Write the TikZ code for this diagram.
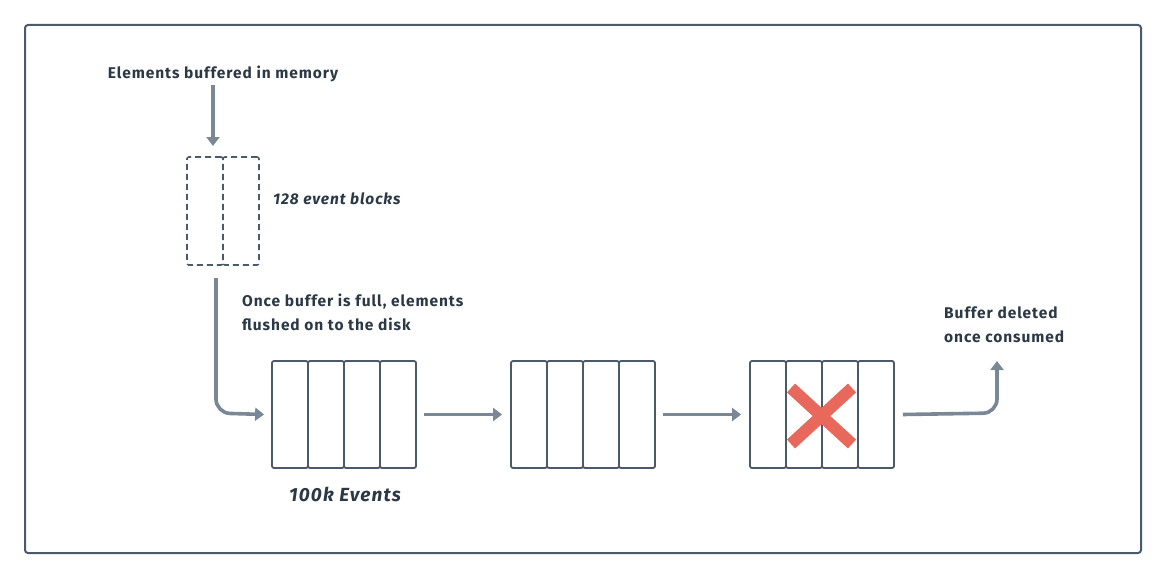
\documentclass[tikz,border=0pt]{standalone}
\usepackage{fontspec}
\setmainfont{Fira Sans}
\newfontfamily\labfont[LetterSpace=6]{Fira Sans}
\usetikzlibrary{arrows.meta}
\definecolor{frame}{HTML}{4A5A68}
\definecolor{arr}{HTML}{7A8896}
\definecolor{txt}{HTML}{2B3845}
\definecolor{xred}{HTML}{E8695C}
\tikzset{
  cell/.style={draw=frame, line width=1.8pt, rounded corners=2pt, minimum width=36pt, minimum height=107pt, inner sep=0pt},
  dcell/.style={draw=frame, line width=1.6pt, rounded corners=2pt, minimum width=36pt, minimum height=108pt, inner sep=0pt, dash pattern=on 6pt off 4pt},
  conn/.style={draw=arr, line width=3.6pt, -{Triangle[length=9pt,width=13pt]}, rounded corners=14pt},
  lbl/.style={text=txt, font=\labfont\fontsize{15.5}{24}\selectfont\bfseries, align=left, inner sep=0pt},
  ilbl/.style={text=txt, font=\labfont\fontsize{15.5}{17}\selectfont\bfseries\itshape, inner sep=0pt},
}
\begin{document}
\begin{tikzpicture}[x=1pt,y=-1pt]
\useasboundingbox (0,0) rectangle (1166,578);
\draw[frame, line width=2pt, rounded corners=3pt] (25,25) rectangle (1141,553);

\node[lbl, anchor=base] (title) at (223,78) {Elements buffered in memory};
\coordinate (bufTop) at (213,85);
% dashed buffer
\node[dcell] (b1) at (205,211) {};
\node[dcell] (b2) at (241,211) {};
\draw[conn] (bufTop) -- (213,146);
\node[ilbl, anchor=base west] (evb) at (273,204) {128 event blocks};

\foreach \i in {0,1,2,3}{
  \node[cell] (a\i) at (290+36*\i,414.5) {};
  \node[cell] (c\i) at (529+36*\i,414.5) {};
  \node[cell] (d\i) at (768+36*\i,414.5) {};
}
\node[lbl, anchor=base west] (flush) at (242,330) {Once buffer is full, elements\\flushed on to the disk};
\node[text=txt, font=\labfont\fontsize{19}{20}\selectfont\bfseries\itshape, inner sep=0pt, anchor=base] (ev) at (345,501) {100k Events};

\coordinate (startdown) at (216,278);
\draw[conn] (startdown) -- (216,413) -- ([xshift=-7pt]a0.west);
\draw[conn] ([xshift=7pt]a3.east) -- ([xshift=-8pt]c0.west);
\draw[conn] ([xshift=7pt]c3.east) -- ([xshift=-8pt]d0.west);
\coordinate (endup) at (997,361);
\draw[conn] ([xshift=8pt]d3.east) -- (997,413) -- (endup);
\node[lbl, anchor=base west] (del) at (944,342) {Buffer deleted\\once consumed};

% red X
\draw[xred, line width=12pt] (791,388) -- (852,444) (791,444) -- (852,388);
\end{tikzpicture}
\end{document}
